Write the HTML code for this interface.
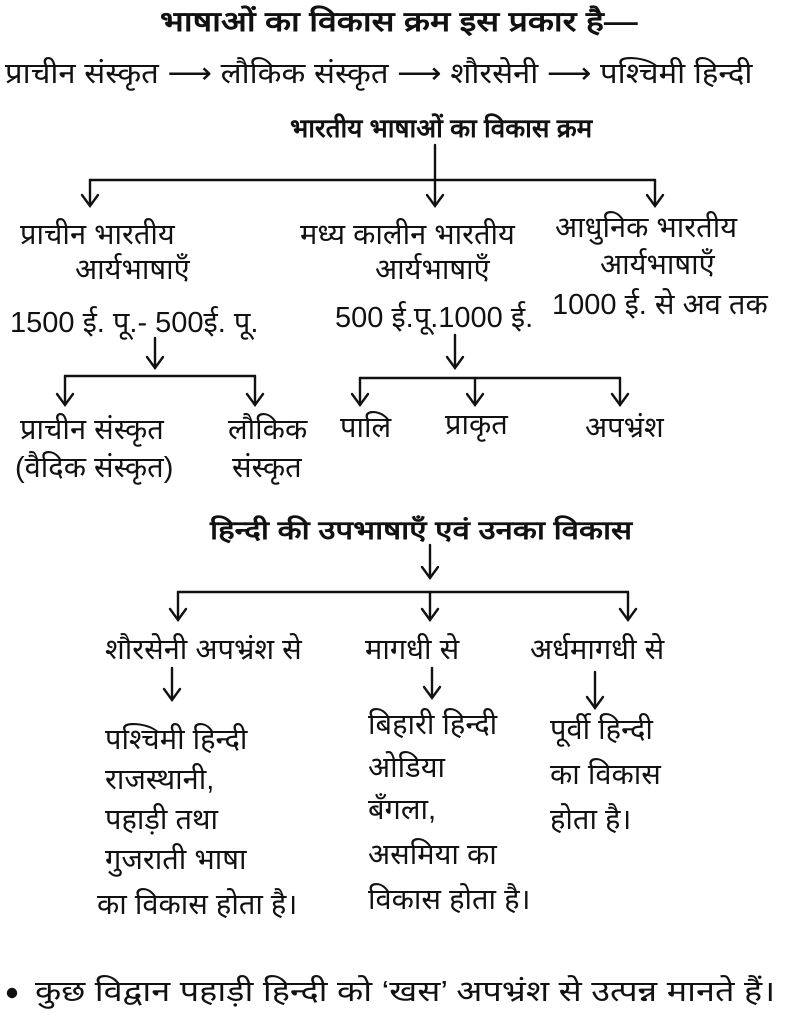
<!DOCTYPE html>
<html><head><meta charset="utf-8">
<style>
html,body{margin:0;padding:0;background:#fff;}
body{width:787px;height:1024px;position:relative;overflow:hidden;font-family:"Liberation Sans","Noto Sans CJK SC",sans-serif;color:#111;}
.t{position:absolute;white-space:nowrap;font-size:29px;line-height:32px;transform-origin:0 50%;}
.b{font-weight:bold;font-size:26px;}
svg{position:absolute;left:0;top:0;}
</style></head><body>
<svg width="787" height="1024" viewBox="0 0 787 1024" fill="none" stroke="#111" stroke-width="2.4" stroke-linecap="round">
<line x1="435" y1="145" x2="435" y2="205"/>
<line x1="90" y1="180" x2="655" y2="180"/>
<line x1="90" y1="180" x2="90" y2="205"/>
<line x1="655" y1="180" x2="655" y2="205"/>
<polyline points="82,195 90,206 98,195"/>
<polyline points="427,195 435,206 443,195"/>
<polyline points="647,195 655,206 663,195"/>
<line x1="155" y1="338" x2="155" y2="368"/>
<polyline points="147,357 155,368 163,357"/>
<line x1="65" y1="376" x2="255" y2="376"/>
<line x1="65" y1="376" x2="65" y2="405"/>
<line x1="255" y1="376" x2="255" y2="405"/>
<polyline points="57,394 65,405 73,394"/>
<polyline points="247,394 255,405 263,394"/>
<line x1="455" y1="335" x2="455" y2="368"/>
<polyline points="447,357 455,368 463,357"/>
<line x1="360" y1="378" x2="620" y2="378"/>
<line x1="360" y1="378" x2="360" y2="405"/>
<line x1="475" y1="378" x2="475" y2="405"/>
<line x1="620" y1="378" x2="620" y2="405"/>
<polyline points="352,394 360,405 368,394"/>
<polyline points="467,394 475,405 483,394"/>
<polyline points="612,394 620,405 628,394"/>
<line x1="430" y1="545" x2="430" y2="578"/>
<polyline points="422,567 430,578 438,567"/>
<line x1="178" y1="592" x2="628" y2="592"/>
<line x1="178" y1="592" x2="178" y2="620"/>
<line x1="430" y1="592" x2="430" y2="620"/>
<line x1="628" y1="592" x2="628" y2="620"/>
<polyline points="170,609 178,620 186,609"/>
<polyline points="422,609 430,620 438,609"/>
<polyline points="620,609 628,620 636,609"/>
<line x1="172" y1="668" x2="172" y2="700"/>
<polyline points="164,689 172,700 180,689"/>
<line x1="432" y1="668" x2="432" y2="698"/>
<polyline points="424,687 432,698 440,687"/>
<line x1="595" y1="672" x2="595" y2="708"/>
<polyline points="587,697 595,708 603,697"/>
<circle cx="12" cy="993" r="4" fill="#111"/>
</svg>

<div class="t b" style="left:160px;top:6px;font-size:28px;transform:scaleX(1.21);">भाषाओं का विकास क्रम इस प्रकार है—</div>
<div class="t" style="left:5px;top:58px;transform:scaleX(1.07);">प्राचीन संस्कृत ⟶ लौकिक संस्कृत ⟶ शौरसेनी ⟶ पश्चिमी हिन्दी</div>
<div class="t b" style="left:290px;top:112px;">भारतीय भाषाओं का विकास क्रम</div>

<div class="t" style="left:20px;top:219px;">प्राचीन भारतीय</div>
<div class="t" style="left:75px;top:254px;">आर्यभाषाएँ</div>
<div class="t" style="left:10px;top:307px;">1500 ई. पू.- 500ई. पू.</div>

<div class="t" style="left:300px;top:219px;">मध्य कालीन भारतीय</div>
<div class="t" style="left:375px;top:254px;">आर्यभाषाएँ</div>
<div class="t" style="left:335px;top:302px;">500 ई.पू.1000 ई.</div>

<div class="t" style="left:555px;top:212px;">आधुनिक भारतीय</div>
<div class="t" style="left:600px;top:249px;">आर्यभाषाएँ</div>
<div class="t" style="left:552px;top:289px;">1000 ई. से अव तक</div>

<div class="t" style="left:20px;top:414px;">प्राचीन संस्कृत</div>
<div class="t" style="left:15px;top:452px;">(वैदिक संस्कृत)</div>
<div class="t" style="left:228px;top:414px;">लौकिक</div>
<div class="t" style="left:232px;top:452px;">संस्कृत</div>
<div class="t" style="left:340px;top:412px;">पालि</div>
<div class="t" style="left:445px;top:409px;">प्राकृत</div>
<div class="t" style="left:585px;top:412px;">अपभ्रंश</div>

<div class="t b" style="left:210px;top:514px;transform:scaleX(1.2);">हिन्दी की उपभाषाएँ एवं उनका विकास</div>

<div class="t" style="left:105px;top:634px;">शौरसेनी अपभ्रंश से</div>
<div class="t" style="left:365px;top:634px;">मागधी से</div>
<div class="t" style="left:530px;top:634px;">अर्धमागधी से</div>

<div class="t" style="left:105px;top:724px;">पश्चिमी हिन्दी</div>
<div class="t" style="left:105px;top:764px;">राजस्थानी,</div>
<div class="t" style="left:105px;top:804px;">पहाड़ी तथा</div>
<div class="t" style="left:105px;top:844px;">गुजराती भाषा</div>
<div class="t" style="left:97px;top:889px;">का विकास होता है।</div>

<div class="t" style="left:368px;top:709px;">बिहारी हिन्दी</div>
<div class="t" style="left:368px;top:752px;">ओडिया</div>
<div class="t" style="left:368px;top:794px;">बँगला,</div>
<div class="t" style="left:368px;top:839px;">असमिया का</div>
<div class="t" style="left:368px;top:884px;">विकास होता है।</div>

<div class="t" style="left:550px;top:714px;">पूर्वी हिन्दी</div>
<div class="t" style="left:550px;top:759px;">का विकास</div>
<div class="t" style="left:550px;top:804px;">होता है।</div>

<div class="t" style="left:35px;top:976px;transform:scaleX(1.18);">कुछ विद्वान पहाड़ी हिन्दी को ‘खस’ अपभ्रंश से उत्पन्न मानते हैं।</div>
</body></html>
